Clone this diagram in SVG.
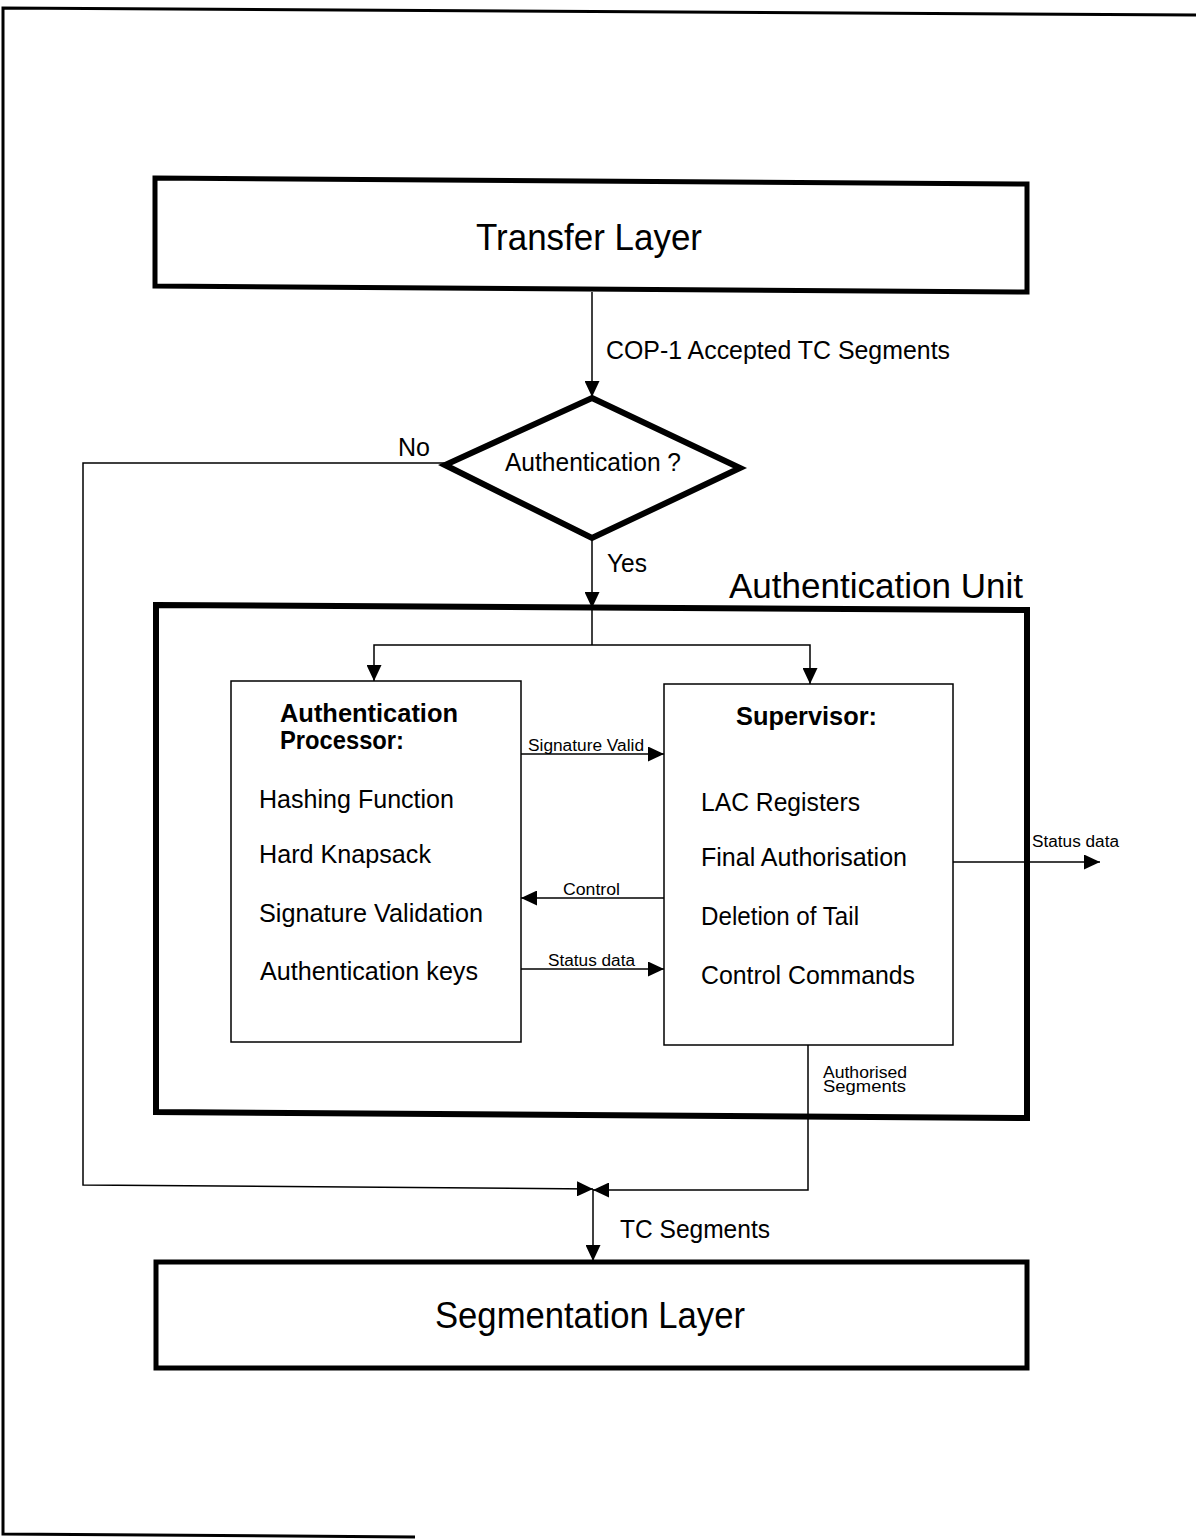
<svg xmlns="http://www.w3.org/2000/svg" width="1196" height="1539" viewBox="0 0 1196 1539">
<defs>
<marker id="ah" markerUnits="userSpaceOnUse" markerWidth="16" markerHeight="15" refX="16" refY="7.5" orient="auto" viewBox="0 0 16 15">
<path d="M0,0 L16,7.5 L0,15 z" fill="#000"/>
</marker>
</defs>
<style>
text{font-family:"Liberation Sans",Arial,Helvetica,sans-serif;fill:#000}
.big{font-size:37px}
.mid{font-size:25px}
.unit{font-size:35px}
.bold{font-size:25px;font-weight:bold}
.small{font-size:16px}
.thick{fill:#fff;stroke:#000;stroke-width:5}
.thin{fill:#fff;stroke:#000;stroke-width:1.5}
.conn{fill:none;stroke:#000;stroke-width:1.5}
</style>
<rect width="1196" height="1539" fill="#fff"/>
<g id="page-border">
<polyline points="1196,15 3,8 3,1534 415,1537" fill="none" stroke="#000" stroke-width="3"/>
</g>
<g id="connectors">
<line class="conn" x1="592" y1="292" x2="592" y2="397" marker-end="url(#ah)"/>
<polyline class="conn" points="445,463 83,463 83,1185 593,1189" marker-end="url(#ah)"/>
<line class="conn" x1="592" y1="538" x2="592" y2="608" marker-end="url(#ah)"/>
<polyline class="conn" points="592,608 592,645"/>
<polyline class="conn" points="592,645 374,645 374,681" marker-end="url(#ah)"/>
<polyline class="conn" points="592,645 810,645 810,684" marker-end="url(#ah)"/>
<line class="conn" x1="521" y1="754" x2="664" y2="754" marker-end="url(#ah)"/>
<line class="conn" x1="664" y1="898" x2="521" y2="898" marker-end="url(#ah)"/>
<line class="conn" x1="521" y1="969" x2="664" y2="969" marker-end="url(#ah)"/>
<line class="conn" x1="953" y1="862" x2="1100" y2="862" marker-end="url(#ah)"/>
<polyline class="conn" points="808,1045 808,1190 593,1190" marker-end="url(#ah)"/>
<line class="conn" x1="593" y1="1189" x2="593" y2="1261" marker-end="url(#ah)"/>
<text class="mid" x="606" y="359" textLength="344" lengthAdjust="spacingAndGlyphs">COP-1 Accepted TC Segments</text>
<text class="mid" x="398" y="456" textLength="32" lengthAdjust="spacingAndGlyphs">No</text>
<text class="mid" x="607" y="572" textLength="40" lengthAdjust="spacingAndGlyphs">Yes</text>
<text class="small" x="528" y="751" textLength="116" lengthAdjust="spacingAndGlyphs">Signature Valid</text>
<text class="small" x="563" y="895" textLength="57" lengthAdjust="spacingAndGlyphs">Control</text>
<text class="small" x="548" y="966" textLength="87" lengthAdjust="spacingAndGlyphs">Status data</text>
<text class="small" x="1032" y="847" textLength="87" lengthAdjust="spacingAndGlyphs">Status data</text>
<text class="small" x="823" y="1078" textLength="84" lengthAdjust="spacingAndGlyphs">Authorised</text>
<text class="small" x="823" y="1092" textLength="83" lengthAdjust="spacingAndGlyphs">Segments</text>
<text class="mid" x="620" y="1238" textLength="150" lengthAdjust="spacingAndGlyphs">TC Segments</text>
</g>
<g id="transfer-layer">
<polygon class="thick" points="155,178 1027,184 1027,292 155,286"/>
<text class="big" x="476" y="250" textLength="226" lengthAdjust="spacingAndGlyphs">Transfer Layer</text>
</g>
<g id="decision">
<polygon points="592,398 740,468 592,538 445,465" fill="#fff" stroke="#000" stroke-width="6" stroke-linejoin="miter"/>
<text class="mid" x="505" y="471" textLength="176" lengthAdjust="spacingAndGlyphs">Authentication ?</text>
</g>
<g id="authentication-unit">
<polygon points="156,605 1027,610 1027,1118 156,1112" fill="none" stroke="#000" stroke-width="6"/>
<text class="unit" x="729" y="598" textLength="294" lengthAdjust="spacingAndGlyphs">Authentication Unit</text>
</g>
<g id="authentication-processor">
<rect class="thin" x="231" y="681" width="290" height="361"/>
<text class="bold" x="280" y="722" textLength="178" lengthAdjust="spacingAndGlyphs">Authentication</text>
<text class="bold" x="280" y="749" textLength="124" lengthAdjust="spacingAndGlyphs">Processor:</text>
<text class="mid" x="259" y="808" textLength="195" lengthAdjust="spacingAndGlyphs">Hashing Function</text>
<text class="mid" x="259" y="863" textLength="172" lengthAdjust="spacingAndGlyphs">Hard Knapsack</text>
<text class="mid" x="259" y="922" textLength="224" lengthAdjust="spacingAndGlyphs">Signature Validation</text>
<text class="mid" x="260" y="980" textLength="218" lengthAdjust="spacingAndGlyphs">Authentication keys</text>
</g>
<g id="supervisor">
<rect class="thin" x="664" y="684" width="289" height="361"/>
<text class="bold" x="736" y="725" textLength="141" lengthAdjust="spacingAndGlyphs">Supervisor:</text>
<text class="mid" x="701" y="811" textLength="159" lengthAdjust="spacingAndGlyphs">LAC Registers</text>
<text class="mid" x="701" y="866" textLength="206" lengthAdjust="spacingAndGlyphs">Final Authorisation</text>
<text class="mid" x="701" y="925" textLength="158" lengthAdjust="spacingAndGlyphs">Deletion of Tail</text>
<text class="mid" x="701" y="984" textLength="214" lengthAdjust="spacingAndGlyphs">Control Commands</text>
</g>
<g id="segmentation-layer">
<rect class="thick" x="156" y="1262" width="871" height="106"/>
<text class="big" x="435" y="1328" textLength="310" lengthAdjust="spacingAndGlyphs">Segmentation Layer</text>
</g>
</svg>
